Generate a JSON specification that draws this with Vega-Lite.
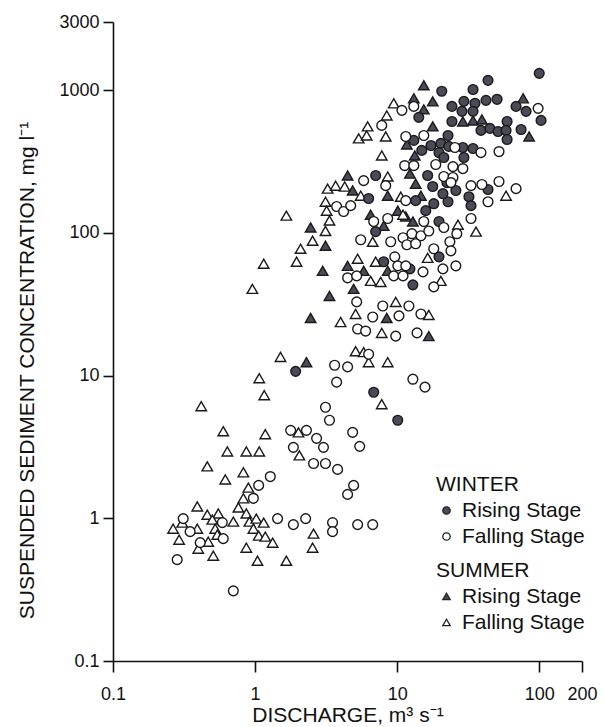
{
"$schema": "https://vega.github.io/schema/vega-lite/v6.json",
"width": 469, "height": 639,
"autosize": {"type": "none"},
"padding": {"left": 113, "top": 22, "right": 22, "bottom": 66},
"background": "white",
"config": {
 "font": "Liberation Sans",
 "view": {"stroke": null},
 "axis": {"grid": false, "domainColor": "#111", "domainWidth": 1.6, "tickColor": "#111", "tickWidth": 1.6, "labelColor": "#111", "titleColor": "#111", "labelFontSize": 18, "titleFontSize": 21, "titleFontWeight": "normal", "labelFont": "Liberation Sans", "titleFont": "Liberation Sans"},
 "legend": {"titleFontSize": 21, "titleFontWeight": "normal", "titleColor": "#111", "labelFontSize": 21, "labelColor": "#111", "symbolSize": 55, "symbolStrokeColor": "#222", "symbolStrokeWidth": 1.3, "rowPadding": 4, "labelOffset": 5, "titlePadding": 5, "padding": 0}
},
"datasets": {
 "winter": [
  {"stage":"Rising Stage","Q":100,"SSC":1310},{"stage":"Rising Stage","Q":43.6,"SSC":1170},{"stage":"Rising Stage","Q":34.2,"SSC":1010},{"stage":"Rising Stage","Q":20.6,"SSC":981},{"stage":"Rising Stage","Q":24.3,"SSC":769},{"stage":"Rising Stage","Q":29.5,"SSC":834},{"stage":"Rising Stage","Q":35.3,"SSC":808},{"stage":"Rising Stage","Q":42.2,"SSC":848},{"stage":"Rising Stage","Q":50.5,"SSC":862},{"stage":"Rising Stage","Q":68.7,"SSC":769},{"stage":"Rising Stage","Q":80.8,"SSC":710},{"stage":"Rising Stage","Q":103,"SSC":613},{"stage":"Rising Stage","Q":14.2,"SSC":644},{"stage":"Rising Stage","Q":28.6,"SSC":710},{"stage":"Rising Stage","Q":34.2,"SSC":710},{"stage":"Rising Stage","Q":24.3,"SSC":603},{"stage":"Rising Stage","Q":38.9,"SSC":522},{"stage":"Rising Stage","Q":45,"SSC":539},{"stage":"Rising Stage","Q":51.3,"SSC":513},{"stage":"Rising Stage","Q":59.4,"SSC":603},{"stage":"Rising Stage","Q":58.4,"SSC":522},{"stage":"Rising Stage","Q":59.4,"SSC":451},{"stage":"Rising Stage","Q":74.5,"SSC":530},{"stage":"Rising Stage","Q":22.8,"SSC":481},{"stage":"Rising Stage","Q":13.1,"SSC":444},{"stage":"Rising Stage","Q":14.9,"SSC":378},{"stage":"Rising Stage","Q":17.3,"SSC":409},{"stage":"Rising Stage","Q":20.3,"SSC":423},{"stage":"Rising Stage","Q":23.1,"SSC":403},{"stage":"Rising Stage","Q":29,"SSC":396},{"stage":"Rising Stage","Q":34.2,"SSC":390},{"stage":"Rising Stage","Q":19.7,"SSC":365},{"stage":"Rising Stage","Q":21.3,"SSC":337},{"stage":"Rising Stage","Q":29.5,"SSC":337},{"stage":"Rising Stage","Q":16.4,"SSC":252},{"stage":"Rising Stage","Q":7.06,"SSC":252},{"stage":"Rising Stage","Q":17.8,"SSC":211},{"stage":"Rising Stage","Q":22.4,"SSC":225},{"stage":"Rising Stage","Q":43.6,"SSC":201},{"stage":"Rising Stage","Q":6.3,"SSC":174},{"stage":"Rising Stage","Q":13.5,"SSC":168},{"stage":"Rising Stage","Q":18.1,"SSC":160},{"stage":"Rising Stage","Q":22.8,"SSC":165},{"stage":"Rising Stage","Q":25.9,"SSC":198},{"stage":"Rising Stage","Q":32,"SSC":179},{"stage":"Rising Stage","Q":33.1,"SSC":155},{"stage":"Rising Stage","Q":21,"SSC":188},{"stage":"Rising Stage","Q":15.9,"SSC":143},{"stage":"Rising Stage","Q":19.7,"SSC":120},{"stage":"Rising Stage","Q":7.06,"SSC":102},{"stage":"Rising Stage","Q":8.04,"SSC":62.7},{"stage":"Rising Stage","Q":12.3,"SSC":55.9},{"stage":"Rising Stage","Q":19.7,"SSC":67.9},{"stage":"Rising Stage","Q":12.9,"SSC":43.2},{"stage":"Rising Stage","Q":1.93,"SSC":10.7},{"stage":"Rising Stage","Q":6.84,"SSC":7.64},{"stage":"Rising Stage","Q":10.1,"SSC":4.86},
  {"stage":"Falling Stage","Q":10.8,"SSC":721},{"stage":"Falling Stage","Q":13.1,"SSC":769},{"stage":"Falling Stage","Q":7.79,"SSC":566},{"stage":"Falling Stage","Q":11.5,"SSC":473},{"stage":"Falling Stage","Q":15.4,"SSC":481},{"stage":"Falling Stage","Q":11.3,"SSC":296},{"stage":"Falling Stage","Q":13.1,"SSC":296},{"stage":"Falling Stage","Q":18.7,"SSC":301},{"stage":"Falling Stage","Q":5.81,"SSC":232},{"stage":"Falling Stage","Q":8.31,"SSC":214},{"stage":"Falling Stage","Q":11.5,"SSC":168},{"stage":"Falling Stage","Q":3.75,"SSC":153},{"stage":"Falling Stage","Q":4.2,"SSC":141},{"stage":"Falling Stage","Q":4.71,"SSC":155},{"stage":"Falling Stage","Q":98.2,"SSC":745},{"stage":"Falling Stage","Q":25.5,"SSC":396},{"stage":"Falling Stage","Q":38.9,"SSC":365},{"stage":"Falling Stage","Q":52.1,"SSC":371},{"stage":"Falling Stage","Q":24.7,"SSC":291},{"stage":"Falling Stage","Q":29,"SSC":282},{"stage":"Falling Stage","Q":21.3,"SSC":248},{"stage":"Falling Stage","Q":24.7,"SSC":244},{"stage":"Falling Stage","Q":23.9,"SSC":225},{"stage":"Falling Stage","Q":33.1,"SSC":214},{"stage":"Falling Stage","Q":39.5,"SSC":218},{"stage":"Falling Stage","Q":52.1,"SSC":229},{"stage":"Falling Stage","Q":68.7,"SSC":204},{"stage":"Falling Stage","Q":43.6,"SSC":165},{"stage":"Falling Stage","Q":6.84,"SSC":120},{"stage":"Falling Stage","Q":8.58,"SSC":126},{"stage":"Falling Stage","Q":15.4,"SSC":120},{"stage":"Falling Stage","Q":21.3,"SSC":109},{"stage":"Falling Stage","Q":33.1,"SSC":126},{"stage":"Falling Stage","Q":5.54,"SSC":89.4},{"stage":"Falling Stage","Q":9.01,"SSC":86.6},{"stage":"Falling Stage","Q":11,"SSC":92.4},{"stage":"Falling Stage","Q":12.7,"SSC":98.6},{"stage":"Falling Stage","Q":14.7,"SSC":95.4},{"stage":"Falling Stage","Q":16.7,"SSC":103},{"stage":"Falling Stage","Q":11.7,"SSC":82.5},{"stage":"Falling Stage","Q":13.5,"SSC":83.8},{"stage":"Falling Stage","Q":23.5,"SSC":86.6},{"stage":"Falling Stage","Q":26.3,"SSC":98.6},{"stage":"Falling Stage","Q":9.62,"SSC":67.9},{"stage":"Falling Stage","Q":10.1,"SSC":58.7},{"stage":"Falling Stage","Q":11.5,"SSC":58.7},{"stage":"Falling Stage","Q":18.1,"SSC":77.3},{"stage":"Falling Stage","Q":23.9,"SSC":74.8},{"stage":"Falling Stage","Q":21,"SSC":55.9},{"stage":"Falling Stage","Q":25.9,"SSC":58.7},{"stage":"Falling Stage","Q":4.48,"SSC":48.4},{"stage":"Falling Stage","Q":5.19,"SSC":49.9},{"stage":"Falling Stage","Q":9.46,"SSC":49.9},{"stage":"Falling Stage","Q":11,"SSC":49.9},{"stage":"Falling Stage","Q":15.2,"SSC":53.3},{"stage":"Falling Stage","Q":18.1,"SSC":41.8},{"stage":"Falling Stage","Q":5.19,"SSC":32.8},{"stage":"Falling Stage","Q":7.92,"SSC":30.7},{"stage":"Falling Stage","Q":12.1,"SSC":30.7},{"stage":"Falling Stage","Q":6.73,"SSC":25.7},{"stage":"Falling Stage","Q":10.3,"SSC":26.2},{"stage":"Falling Stage","Q":14.7,"SSC":27},{"stage":"Falling Stage","Q":5.27,"SSC":21.2},{"stage":"Falling Stage","Q":6,"SSC":20.5},{"stage":"Falling Stage","Q":9.77,"SSC":18.9},{"stage":"Falling Stage","Q":13.8,"SSC":19.9},{"stage":"Falling Stage","Q":6.3,"SSC":14.1},{"stage":"Falling Stage","Q":3.63,"SSC":11.8},{"stage":"Falling Stage","Q":4.48,"SSC":11.5},{"stage":"Falling Stage","Q":3.75,"SSC":8.99},{"stage":"Falling Stage","Q":12.9,"SSC":9.43},{"stage":"Falling Stage","Q":15.7,"SSC":8.29},{"stage":"Falling Stage","Q":3.13,"SSC":6},{"stage":"Falling Stage","Q":3.34,"SSC":4.86},{"stage":"Falling Stage","Q":1.78,"SSC":4.13},{"stage":"Falling Stage","Q":2.3,"SSC":4.13},{"stage":"Falling Stage","Q":2.71,"SSC":3.63},{"stage":"Falling Stage","Q":4.86,"SSC":4},{"stage":"Falling Stage","Q":3.03,"SSC":3.14},{"stage":"Falling Stage","Q":1.86,"SSC":3.14},{"stage":"Falling Stage","Q":5.45,"SSC":3.19},{"stage":"Falling Stage","Q":2.58,"SSC":2.42},{"stage":"Falling Stage","Q":3.13,"SSC":2.42},{"stage":"Falling Stage","Q":3.81,"SSC":2.2},{"stage":"Falling Stage","Q":1.28,"SSC":1.96},{"stage":"Falling Stage","Q":1.06,"SSC":1.7},{"stage":"Falling Stage","Q":4.94,"SSC":1.7},{"stage":"Falling Stage","Q":4.48,"SSC":1.47},{"stage":"Falling Stage","Q":0.973,"SSC":1.38},{"stage":"Falling Stage","Q":0.312,"SSC":0.995},{"stage":"Falling Stage","Q":0.588,"SSC":0.933},{"stage":"Falling Stage","Q":1.44,"SSC":0.995},{"stage":"Falling Stage","Q":1.86,"SSC":0.903},{"stage":"Falling Stage","Q":2.27,"SSC":0.995},{"stage":"Falling Stage","Q":3.51,"SSC":0.933},{"stage":"Falling Stage","Q":3.51,"SSC":0.806},{"stage":"Falling Stage","Q":5.27,"SSC":0.903},{"stage":"Falling Stage","Q":6.73,"SSC":0.903},{"stage":"Falling Stage","Q":0.349,"SSC":0.806},{"stage":"Falling Stage","Q":0.597,"SSC":0.72},{"stage":"Falling Stage","Q":0.411,"SSC":0.675},{"stage":"Falling Stage","Q":0.283,"SSC":0.513},{"stage":"Falling Stage","Q":0.703,"SSC":0.31}
 ],
 "summer": [
  {"stage":"Rising Stage","Q":15.4,"SSC":1081},{"stage":"Rising Stage","Q":13.1,"SSC":876},{"stage":"Rising Stage","Q":17.8,"SSC":834},{"stage":"Rising Stage","Q":15.4,"SSC":733},{"stage":"Rising Stage","Q":17.8,"SSC":557},{"stage":"Rising Stage","Q":11.7,"SSC":416},{"stage":"Rising Stage","Q":12.3,"SSC":260},{"stage":"Rising Stage","Q":4.48,"SSC":252},{"stage":"Rising Stage","Q":4.86,"SSC":198},{"stage":"Rising Stage","Q":8.58,"SSC":182},{"stage":"Rising Stage","Q":13.5,"SSC":221},{"stage":"Rising Stage","Q":77,"SSC":876},{"stage":"Rising Stage","Q":29,"SSC":603},{"stage":"Rising Stage","Q":34.2,"SSC":613},{"stage":"Rising Stage","Q":39.5,"SSC":623},{"stage":"Rising Stage","Q":84.9,"SSC":473},{"stage":"Rising Stage","Q":13.3,"SSC":348},{"stage":"Rising Stage","Q":14.7,"SSC":182},{"stage":"Rising Stage","Q":6.51,"SSC":134},{"stage":"Rising Stage","Q":8.04,"SSC":112},{"stage":"Rising Stage","Q":10.1,"SSC":143},{"stage":"Rising Stage","Q":11.5,"SSC":130},{"stage":"Rising Stage","Q":12.9,"SSC":120},{"stage":"Rising Stage","Q":2.46,"SSC":109},{"stage":"Rising Stage","Q":3.13,"SSC":81.2},{"stage":"Rising Stage","Q":4.48,"SSC":58.7},{"stage":"Rising Stage","Q":8.58,"SSC":54.2},{"stage":"Rising Stage","Q":2.99,"SSC":54.2},{"stage":"Rising Stage","Q":5.81,"SSC":54.2},{"stage":"Rising Stage","Q":4.94,"SSC":40.5},{"stage":"Rising Stage","Q":3.34,"SSC":36.1},{"stage":"Rising Stage","Q":2.46,"SSC":25.3},{"stage":"Rising Stage","Q":8.45,"SSC":25.3},{"stage":"Rising Stage","Q":16.7,"SSC":18.9},{"stage":"Rising Stage","Q":2.3,"SSC":12.4},
  {"stage":"Falling Stage","Q":9.46,"SSC":808},{"stage":"Falling Stage","Q":8.45,"SSC":665},{"stage":"Falling Stage","Q":6.2,"SSC":557},{"stage":"Falling Stage","Q":5.36,"SSC":459},{"stage":"Falling Stage","Q":6.1,"SSC":481},{"stage":"Falling Stage","Q":8.31,"SSC":473},{"stage":"Falling Stage","Q":7.79,"SSC":348},{"stage":"Falling Stage","Q":8.58,"SSC":248},{"stage":"Falling Stage","Q":3.24,"SSC":204},{"stage":"Falling Stage","Q":3.69,"SSC":214},{"stage":"Falling Stage","Q":4.27,"SSC":211},{"stage":"Falling Stage","Q":5.54,"SSC":182},{"stage":"Falling Stage","Q":10.6,"SSC":179},{"stage":"Falling Stage","Q":3.13,"SSC":165},{"stage":"Falling Stage","Q":58.4,"SSC":182},{"stage":"Falling Stage","Q":3.19,"SSC":143},{"stage":"Falling Stage","Q":11,"SSC":134},{"stage":"Falling Stage","Q":26.8,"SSC":114},{"stage":"Falling Stage","Q":35.9,"SSC":102},{"stage":"Falling Stage","Q":1.66,"SSC":132},{"stage":"Falling Stage","Q":3.13,"SSC":103},{"stage":"Falling Stage","Q":3.34,"SSC":122},{"stage":"Falling Stage","Q":2.54,"SSC":88},{"stage":"Falling Stage","Q":6.73,"SSC":86.6},{"stage":"Falling Stage","Q":2.09,"SSC":77.3},{"stage":"Falling Stage","Q":1.15,"SSC":60.7},{"stage":"Falling Stage","Q":1.96,"SSC":62.7},{"stage":"Falling Stage","Q":5.27,"SSC":65.8},{"stage":"Falling Stage","Q":7.06,"SSC":62.7},{"stage":"Falling Stage","Q":16.4,"SSC":66.8},{"stage":"Falling Stage","Q":6.51,"SSC":46.1},{"stage":"Falling Stage","Q":7.66,"SSC":45.3},{"stage":"Falling Stage","Q":20.3,"SSC":46.1},{"stage":"Falling Stage","Q":0.957,"SSC":40.5},{"stage":"Falling Stage","Q":9.77,"SSC":32.8},{"stage":"Falling Stage","Q":4,"SSC":23.7},{"stage":"Falling Stage","Q":5.1,"SSC":27},{"stage":"Falling Stage","Q":16.7,"SSC":26.6},{"stage":"Falling Stage","Q":7.79,"SSC":19.9},{"stage":"Falling Stage","Q":5.1,"SSC":14.8},{"stage":"Falling Stage","Q":5.81,"SSC":14.6},{"stage":"Falling Stage","Q":1.51,"SSC":13.5},{"stage":"Falling Stage","Q":6.3,"SSC":12.4},{"stage":"Falling Stage","Q":8.58,"SSC":12.4},{"stage":"Falling Stage","Q":1.07,"SSC":9.59},{"stage":"Falling Stage","Q":7.79,"SSC":6.3},{"stage":"Falling Stage","Q":1.16,"SSC":7.28},{"stage":"Falling Stage","Q":0.418,"SSC":6.1},{"stage":"Falling Stage","Q":0.597,"SSC":4.07},{"stage":"Falling Stage","Q":1.18,"SSC":3.88},{"stage":"Falling Stage","Q":2.02,"SSC":4},{"stage":"Falling Stage","Q":2.05,"SSC":2.76},{"stage":"Falling Stage","Q":0.638,"SSC":2.94},{"stage":"Falling Stage","Q":0.868,"SSC":2.94},{"stage":"Falling Stage","Q":1.07,"SSC":2.94},{"stage":"Falling Stage","Q":0.461,"SSC":2.31},{"stage":"Falling Stage","Q":0.827,"SSC":2.1},{"stage":"Falling Stage","Q":0.617,"SSC":1.87},{"stage":"Falling Stage","Q":0.897,"SSC":1.64},{"stage":"Falling Stage","Q":0.827,"SSC":1.38},{"stage":"Falling Stage","Q":0.392,"SSC":1.21},{"stage":"Falling Stage","Q":0.763,"SSC":1.19},{"stage":"Falling Stage","Q":0.461,"SSC":1.06},{"stage":"Falling Stage","Q":0.551,"SSC":1.08},{"stage":"Falling Stage","Q":0.868,"SSC":1.08},{"stage":"Falling Stage","Q":0.307,"SSC":0.933},{"stage":"Falling Stage","Q":0.5,"SSC":0.979},{"stage":"Falling Stage","Q":0.703,"SSC":0.948},{"stage":"Falling Stage","Q":0.912,"SSC":0.948},{"stage":"Falling Stage","Q":1.02,"SSC":0.995},{"stage":"Falling Stage","Q":1.15,"SSC":0.933},{"stage":"Falling Stage","Q":0.265,"SSC":0.846},{"stage":"Falling Stage","Q":0.392,"SSC":0.846},{"stage":"Falling Stage","Q":0.524,"SSC":0.846},{"stage":"Falling Stage","Q":0.542,"SSC":0.768},{"stage":"Falling Stage","Q":0.973,"SSC":0.846},{"stage":"Falling Stage","Q":1.06,"SSC":0.756},{"stage":"Falling Stage","Q":1.18,"SSC":0.744},{"stage":"Falling Stage","Q":1.33,"SSC":0.675},{"stage":"Falling Stage","Q":2.58,"SSC":0.781},{"stage":"Falling Stage","Q":0.292,"SSC":0.708},{"stage":"Falling Stage","Q":0.468,"SSC":0.686},{"stage":"Falling Stage","Q":0.398,"SSC":0.612},{"stage":"Falling Stage","Q":0.868,"SSC":0.622},{"stage":"Falling Stage","Q":2.54,"SSC":0.622},{"stage":"Falling Stage","Q":0.508,"SSC":0.547},{"stage":"Falling Stage","Q":1.04,"SSC":0.504},{"stage":"Falling Stage","Q":1.66,"SSC":0.504}
 ]
},
"layer": [
 {
  "data": {"name": "summer"},
  "mark": {"type": "point", "shape": "triangle-up", "filled": true, "size": 110, "stroke": "#1a1a1a", "strokeWidth": 1.4, "opacity": 1},
  "encoding": {
   "x": {"field": "Q", "type": "quantitative", "scale": {"type": "log", "domain": [0.1, 200], "nice": false},
         "axis": {"values": [0.1, 1, 10, 100, 200], "format": "~g", "title": "DISCHARGE, m³ s⁻¹", "tickSize": 11, "labelPadding": 13, "titlePadding": 1, "labelFlush": false}},
   "y": {"field": "SSC", "type": "quantitative", "scale": {"type": "log", "domain": [0.1, 3000], "nice": false},
         "axis": {"values": [0.1, 1, 10, 100, 1000, 3000], "format": "~g", "title": "SUSPENDED SEDIMENT CONCENTRATION, mg l⁻¹", "tickSize": 10, "labelPadding": 4, "titleX": -76, "titleY": 348, "labelFlush": false}},
   "fill": {"field": "stage", "type": "nominal", "scale": {"domain": ["Rising Stage", "Falling Stage"], "range": ["#4b4a57", "#ffffff"]},
            "legend": {"title": "SUMMER", "orient": "none", "legendX": 323, "legendY": 538, "symbolType": "triangle-up"}}
  }
 },
 {
  "data": {"name": "winter"},
  "mark": {"type": "point", "shape": "circle", "filled": true, "size": 95, "stroke": "#1a1a1a", "strokeWidth": 1.4, "opacity": 1},
  "encoding": {
   "x": {"field": "Q", "type": "quantitative"},
   "y": {"field": "SSC", "type": "quantitative"},
   "fill": {"field": "stage", "type": "nominal", "scale": {"domain": ["Rising Stage", "Falling Stage"], "range": ["#4b4a57", "#ffffff"]},
            "legend": {"title": "WINTER", "orient": "none", "legendX": 323, "legendY": 452, "symbolType": "circle"}}
  }
 }
],
"resolve": {"scale": {"fill": "independent"}, "legend": {"fill": "independent"}}
}
